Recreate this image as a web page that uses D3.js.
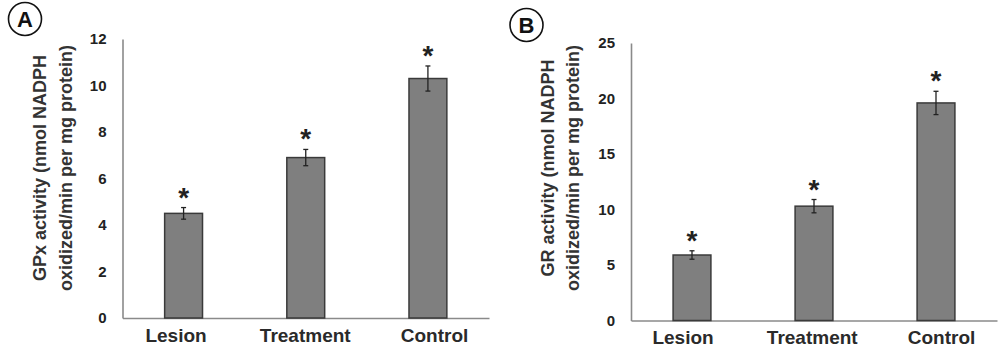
<!DOCTYPE html>
<html>
<head>
<meta charset="utf-8">
<script src="https://cdn.jsdelivr.net/npm/d3@7"></script>
<style>
  html, body { margin: 0; padding: 0; background: #fff; }
  svg { display: block; font-family: "Liberation Sans", Arial, sans-serif; }
</style>
</head>
<body>
<svg id="chart" width="1000" height="351"></svg>
<script>
const categories = ["Lesion", "Treatment", "Control"];
const gpxValues = [4.5, 6.9, 10.3];
const gpxErrors = [0.25, 0.35, 0.54];
const gpxTicks = [0, 2, 4, 6, 8, 10, 12];
const grValues = [5.9, 10.3, 19.6];
const grErrors = [0.38, 0.6, 1.05];
const grTicks = [0, 5, 10, 15, 20, 25];

const svg = d3.select("#chart");

function panel(cfg) {
  const g = svg.append("g");
  const x = d3.scaleBand().domain(categories).range([cfg.x0, cfg.x1])
    .paddingInner(0.69).paddingOuter(0.345);
  const xl = d3.scalePoint().domain(categories).range(cfg.labelRange);
  const y = d3.scaleLinear().domain([0, d3.max(cfg.ticks)]).range([cfg.yBase, cfg.yTop]);

  // y axis
  const ya = g.append("g").attr("transform", `translate(${cfg.x0},0)`)
    .call(d3.axisLeft(y).tickValues(cfg.ticks).tickSize(0).tickPadding(16).tickFormat(d3.format("d")));
  ya.select(".domain").attr("stroke", "#8a8a8a").attr("stroke-width", 1.6);
  ya.selectAll("text").attr("font-size", 15).attr("font-weight", "bold")
    .attr("fill", "#222").attr("font-family", "'Liberation Sans', Arial, sans-serif");

  // x axis line
  const xa = g.append("g").attr("transform", `translate(0,${cfg.yBase})`)
    .call(d3.axisBottom(x).tickSize(0).tickFormat(""));
  xa.select(".domain").attr("stroke", "#8a8a8a").attr("stroke-width", 1.6);

  // category labels
  g.append("g").attr("transform", `translate(0,${cfg.yBase + cfg.labelDy})`)
    .call(d3.axisBottom(xl).tickSize(0).tickPadding(0))
    .call(s => s.select(".domain").remove())
    .selectAll("text").attr("font-size", 19).attr("font-weight", "bold")
    .attr("fill", "#2a2a2a").attr("dy", null).attr("y", 0)
    .attr("font-family", "'Liberation Sans', Arial, sans-serif");

  // bars
  g.selectAll("rect.bar").data(cfg.values).join("rect")
    .attr("class", "bar")
    .attr("x", (d, i) => x(categories[i]))
    .attr("width", x.bandwidth())
    .attr("y", d => y(d))
    .attr("height", d => y(0) - y(d))
    .attr("fill", "#7f7f7f").attr("stroke", "#3a3a3a").attr("stroke-width", 1.5);

  // error bars
  const cx = i => x(categories[i]) + x.bandwidth() / 2;
  const eg = g.selectAll("g.err").data(cfg.values).join("g").attr("class", "err");
  eg.append("line")
    .attr("x1", (d, i) => cx(i)).attr("x2", (d, i) => cx(i))
    .attr("y1", (d, i) => y(d + cfg.errors[i])).attr("y2", (d, i) => y(d - cfg.errors[i]))
    .attr("stroke", "#222").attr("stroke-width", 1.3);
  [1, -1].forEach(s => {
    eg.append("line")
      .attr("x1", (d, i) => cx(i) - 2.5).attr("x2", (d, i) => cx(i) + 2.5)
      .attr("y1", (d, i) => y(d + s * cfg.errors[i])).attr("y2", (d, i) => y(d + s * cfg.errors[i]))
      .attr("stroke", "#222").attr("stroke-width", 1.3);
  });

  // asterisks
  g.selectAll("text.star").data(cfg.values).join("text")
    .attr("class", "star")
    .attr("x", (d, i) => cx(i))
    .attr("y", (d, i) => y(d + cfg.errors[i]) - 1)
    .attr("text-anchor", "middle")
    .attr("font-size", 28).attr("font-weight", "bold").attr("fill", "#222")
    .text("*");

  // y title
  const tg = g.append("g");
  cfg.title.forEach((t, k) => {
    tg.append("text")
      .attr("transform", `translate(${cfg.titleX[k]},${cfg.titleY}) rotate(-90)`)
      .attr("text-anchor", "middle").attr("dominant-baseline", "central")
      .attr("font-size", 18).attr("font-weight", "bold").attr("fill", "#333")
      .text(t);
  });

  // panel letter
  g.append("circle").attr("cx", cfg.letterX).attr("cy", cfg.letterY).attr("r", 16.5)
    .attr("fill", "none").attr("stroke", "#111").attr("stroke-width", 1.6);
  g.append("text").attr("x", cfg.letterX).attr("y", cfg.letterY)
    .attr("text-anchor", "middle").attr("dominant-baseline", "central")
    .attr("font-size", 22).attr("font-weight", "bold").attr("fill", "#111")
    .text(cfg.letter);
}

panel({
  x0: 122.5, x1: 489, yBase: 318, yTop: 39,
  ticks: gpxTicks, values: gpxValues, errors: gpxErrors,
  labelDy: 24, labelRange: [175.5, 434],
  title: ["GPx activity (nmol NADPH", "oxidized/min per mg protein)"],
  titleX: [40, 66], titleY: 168,
  letter: "A", letterX: 25, letterY: 19
});

panel({
  x0: 631, x1: 997, yBase: 320.5, yTop: 43,
  ticks: grTicks, values: grValues, errors: grErrors,
  labelDy: 23.5, labelRange: [682.5, 941],
  title: ["GR activity (nmol NADPH", "oxidized/min per mg protein)"],
  titleX: [548, 573], titleY: 168,
  letter: "B", letterX: 526.5, letterY: 25
});
</script>
</body>
</html>
